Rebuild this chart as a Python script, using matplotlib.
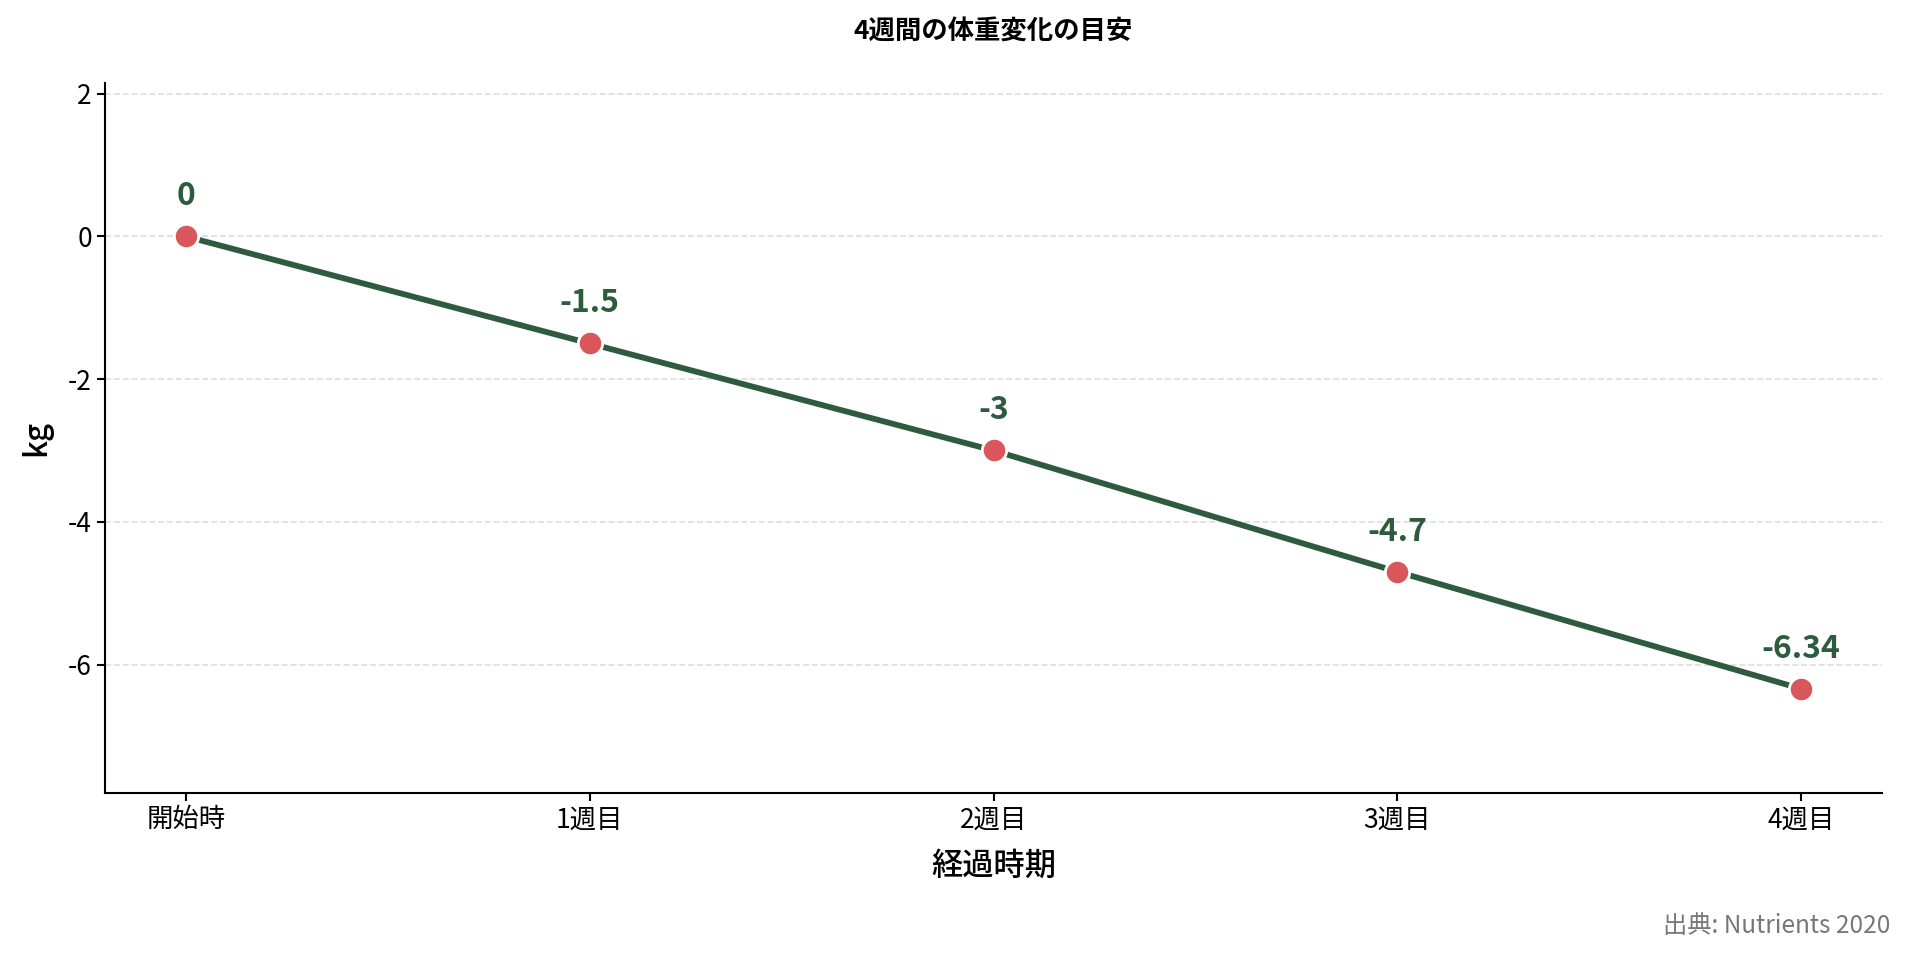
import matplotlib
matplotlib.use("Agg")
import matplotlib.pyplot as plt

plt.rcParams['font.family'] = ['Noto Sans CJK JP', 'DejaVu Sans']
plt.rcParams['axes.unicode_minus'] = False

categories = ["開始時", "1週目", "2週目", "3週目", "4週目"]
values = [0, -1.5, -3, -4.7, -6.34]
labels = ["0", "-1.5", "-3", "-4.7", "-6.34"]
yticks = [2, 0, -2, -4, -6]

fig = plt.figure(figsize=(19.1, 9.59), dpi=100)
ax = fig.add_axes([105/1910, 1-793/959, (1882-105)/1910, (793-83)/959])

x = list(range(len(categories)))
ax.plot(x, values, color="#2e5b3e", linewidth=4.2, zorder=2)
ax.plot(x, values, linestyle="none", marker="o", markersize=17.5,
        markerfacecolor="#d9575a", markeredgecolor="white", markeredgewidth=2, zorder=3)

for xi, v, lab in zip(x, values, labels):
    ax.annotate(lab, (xi, v), xytext=(0, 29), textcoords="offset points",
                ha="center", va="center", fontsize=23, fontweight="bold", color="#2e5b3e")

ax.set_xlim(-0.2, 4.2)
ax.set_ylim(-7.8, 2.15)
ax.set_xticks(x)
ax.set_xticklabels(categories)
ax.set_yticks(yticks)
ax.set_yticklabels([str(t) for t in yticks])
ax.tick_params(labelsize=19, length=6, width=1.5)
ax.grid(axis="y", linestyle="--", color="#dddddd", linewidth=1.2)
ax.set_axisbelow(True)
for s in ["top", "right"]:
    ax.spines[s].set_visible(False)
for s in ["left", "bottom"]:
    ax.spines[s].set_linewidth(1.5)

ax.set_xlabel("経過時期", fontsize=22.5, fontweight="medium", labelpad=12)
ax.set_ylabel("kg", fontsize=22.5, fontweight="medium", labelpad=11)
ax.set_title("4週間の体重変化の目安", fontsize=19, fontweight="bold", pad=31)

fig.text(1890/1910, 1-926/959, "出典: Nutrients 2020", ha="right", va="center",
         fontsize=17.5, color="#777777")

fig.savefig("out.png", dpi=100)
